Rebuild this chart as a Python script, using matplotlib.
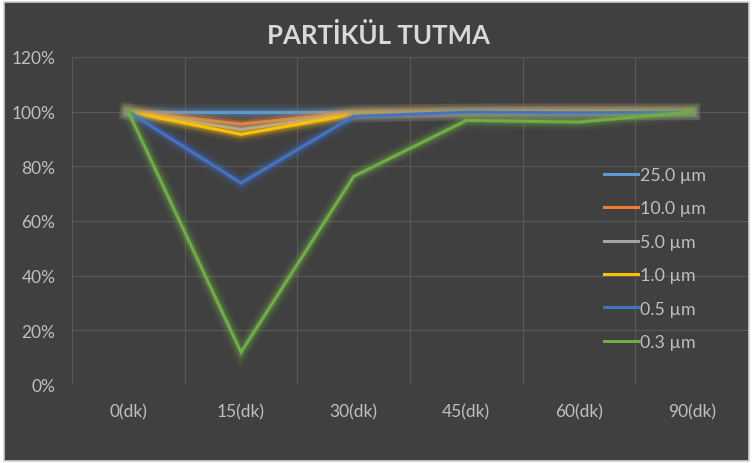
import matplotlib
matplotlib.use("Agg")
import matplotlib.pyplot as plt
import matplotlib.patheffects as pe
from matplotlib.patches import Rectangle
from matplotlib.ticker import PercentFormatter, FixedLocator

plt.rcParams['font.family'] = ['Lato', 'DejaVu Sans']

# categories (time) and series values in percent
times = ["0(dk)", "15(dk)", "30(dk)", "45(dk)", "60(dk)", "90(dk)"]
labels = ["25.0 µm", "10.0 µm", "5.0 µm", "1.0 µm", "0.5 µm", "0.3 µm"]
p25 = [100, 100, 100, 100, 100, 100]
p10 = [100, 95.5, 99.6, 100, 100, 100]
p5 = [100, 93.5, 99.3, 100, 100, 100]
p1 = [100, 91.7, 99.0, 99.9, 100, 100]
p05 = [100, 73.9, 98.3, 99.8, 99.6, 99.8]
p03 = [100, 12.0, 76.3, 96.8, 96.2, 99.9]
colors = ["#5B9BD5", "#ED7D31", "#A5A5A5", "#FFC000", "#4472C4", "#70AD47"]

series = [p25, p10, p5, p1, p05, p03]

bg = "#404040"
txt = "#bfbfbf"

fig = plt.figure(figsize=(7.55, 4.64), dpi=100)
fig.patch.set_facecolor("white")
# chart frame
fig.patches.append(Rectangle((4 / 755, 2 / 464), 745 / 755, 459 / 464,
                             transform=fig.transFigure, facecolor=bg,
                             edgecolor="#d0d0d0", linewidth=1.2, zorder=-10))

ax = fig.add_axes([72 / 755, 78 / 464, 676 / 755, 328 / 464])
ax.patch.set_alpha(0)

x = list(range(len(times)))
for vals, lab, col in zip(series, labels, colors):
    line, = ax.plot(x, vals, color=col, linewidth=2.2, label=lab,
                    solid_joinstyle="miter", zorder=3)
    # soft glow like the excel chart
    line.set_path_effects([
        pe.Stroke(linewidth=12, foreground=col, alpha=0.08),
        pe.Stroke(linewidth=8, foreground=col, alpha=0.14),
        pe.Stroke(linewidth=5, foreground=col, alpha=0.25),
        pe.Normal(),
    ])

ax.set_xlim(-0.5, 5.5)
ax.set_ylim(0, 120)
ax.set_xticks(x)
ax.set_xticklabels(times)
ax.set_yticks(range(0, 121, 20))
ax.yaxis.set_major_formatter(PercentFormatter(xmax=100, decimals=0))
ax.xaxis.set_minor_locator(FixedLocator([i - 0.5 for i in range(len(times))]))

ax.grid(axis="y", which="major", color="#595959", linewidth=0.8)
ax.grid(axis="x", which="minor", color="#595959", linewidth=0.8)
ax.set_axisbelow(True)
for s in ax.spines.values():
    s.set_visible(False)
ax.tick_params(which="both", length=0)
ax.tick_params(axis="x", colors=txt, labelsize=12.5, pad=13)
ax.tick_params(axis="y", colors=txt, labelsize=12.5, pad=12)

leg = ax.legend(loc="upper left", bbox_to_anchor=(604 / 755, 1 - 168 / 464),
                bbox_transform=fig.transFigure, frameon=False,
                fontsize=12.8, handlelength=1.9, handletextpad=0.1,
                labelspacing=0.98, borderpad=0, borderaxespad=0)
for t in leg.get_texts():
    t.set_color(txt)
for h in leg.legend_handles:
    h.set_path_effects([])
    h.set_linewidth(2.2)

fig.text(378 / 755, 1 - 36 / 464, "PARTİKÜL TUTMA", ha="center", va="center",
         fontsize=18.5, fontweight="bold", color="#d9d9d9")

fig.savefig("out.png", dpi=100, facecolor=fig.get_facecolor())
